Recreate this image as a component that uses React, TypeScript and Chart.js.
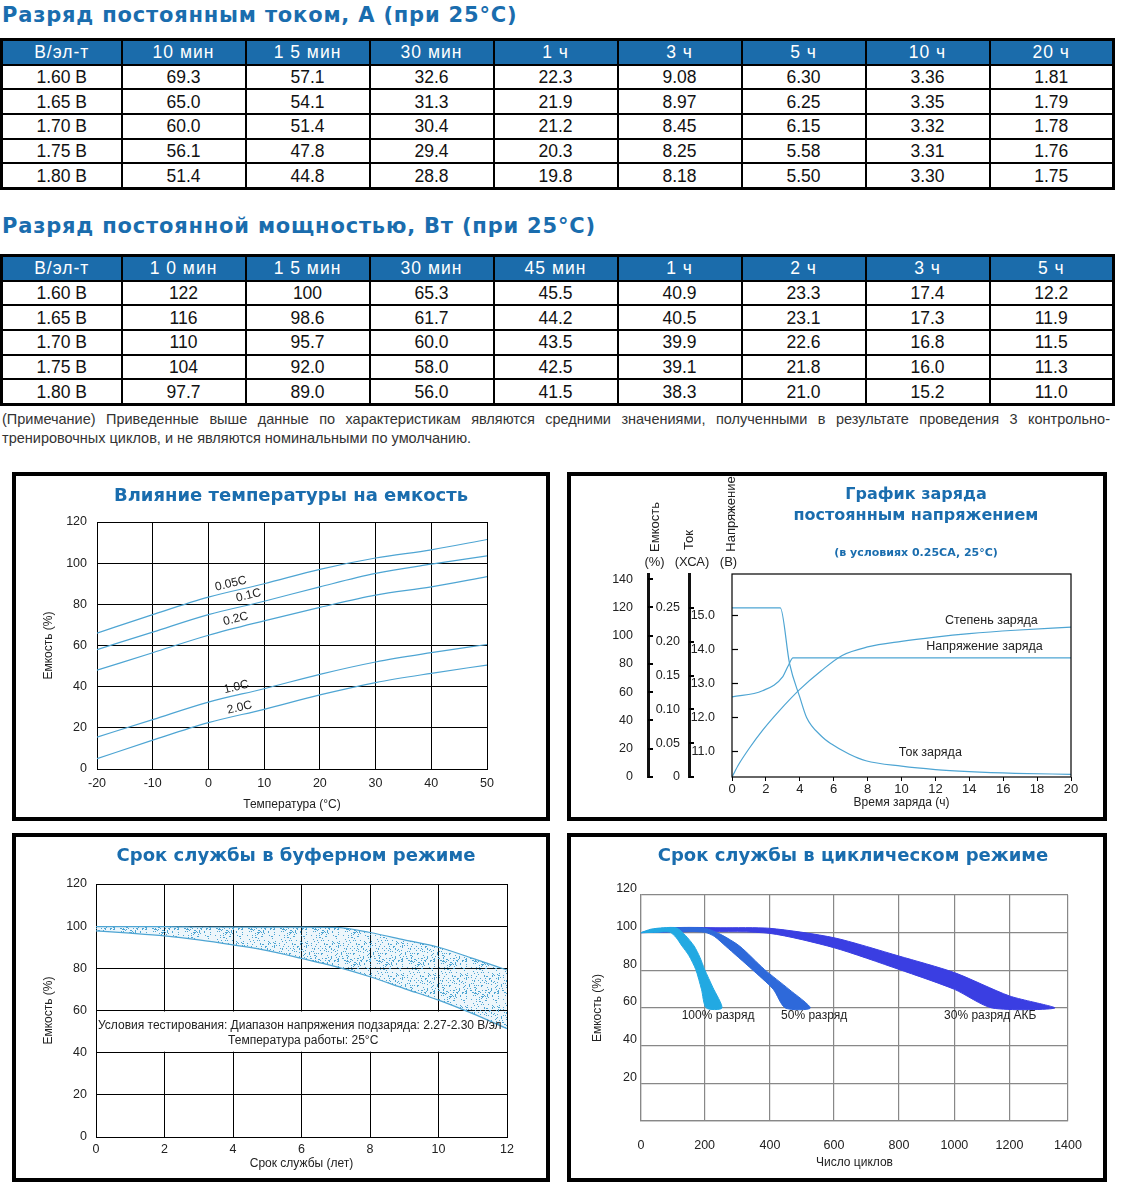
import React, { useEffect, useLayoutEffect, useRef } from 'react';
import { Chart, registerables, LinearScale } from 'chart.js';

Chart.register(...registerables);

// ---------- piecewise axis used by the cycle-life chart (its grid is not evenly spaced) ----------
const cycleStops = [0, 200, 400, 600, 800, 1000, 1200, 1400];
const cycleStopFractions = [0, 0.149, 0.302, 0.452, 0.604, 0.734, 0.863, 1];

class PiecewiseScale extends LinearScale {
  static id = 'piecewise';
  static defaults = LinearScale.defaults;
  getPixelForValue(value: any) {
    if (value === null || value === undefined || isNaN(value)) return NaN;
    const v = Number(value);
    let i = 0;
    while (i < cycleStops.length - 2 && v > cycleStops[i + 1]) i++;
    const f0 = cycleStopFractions[i], f1 = cycleStopFractions[i + 1];
    const s0 = cycleStops[i], s1 = cycleStops[i + 1];
    const frac = f0 + ((v - s0) / (s1 - s0)) * (f1 - f0);
    return (this as any).getPixelForDecimal(frac);
  }
  getValueForPixel(pixel: number) {
    const d = (this as any).getDecimalForPixel(pixel);
    let i = 0;
    while (i < cycleStopFractions.length - 2 && d > cycleStopFractions[i + 1]) i++;
    const f0 = cycleStopFractions[i], f1 = cycleStopFractions[i + 1];
    return cycleStops[i] + ((d - f0) / (f1 - f0)) * (cycleStops[i + 1] - cycleStops[i]);
  }
}
Chart.register(PiecewiseScale as any);

// ---------- colours / fonts ----------
const HEADER_BLUE = '#1b6cab';
const TITLE_BLUE = '#1a6dae';
const LINE_BLUE = '#4ea5d3';
const FONT = '"Liberation Sans", Arial, Helvetica, sans-serif';
const HEAVY = '"DejaVu Sans", Verdana, sans-serif';

// ---------- table 1: constant current discharge, A ----------
const currentHeaders = ['В/эл-т', '10 мин', '1 5 мин', '30 мин', '1 ч', '3 ч', '5 ч', '10 ч', '20 ч'];
const cellVoltages = ['1.60 В', '1.65 В', '1.70 В', '1.75 В', '1.80 В'];
const currentRow160 = ['69.3', '57.1', '32.6', '22.3', '9.08', '6.30', '3.36', '1.81'];
const currentRow165 = ['65.0', '54.1', '31.3', '21.9', '8.97', '6.25', '3.35', '1.79'];
const currentRow170 = ['60.0', '51.4', '30.4', '21.2', '8.45', '6.15', '3.32', '1.78'];
const currentRow175 = ['56.1', '47.8', '29.4', '20.3', '8.25', '5.58', '3.31', '1.76'];
const currentRow180 = ['51.4', '44.8', '28.8', '19.8', '8.18', '5.50', '3.30', '1.75'];

// ---------- table 2: constant power discharge, W ----------
const powerHeaders = ['В/эл-т', '1 0 мин', '1 5 мин', '30 мин', '45 мин', '1 ч', '2 ч', '3 ч', '5 ч'];
const powerRow160 = ['122', '100', '65.3', '45.5', '40.9', '23.3', '17.4', '12.2'];
const powerRow165 = ['116', '98.6', '61.7', '44.2', '40.5', '23.1', '17.3', '11.9'];
const powerRow170 = ['110', '95.7', '60.0', '43.5', '39.9', '22.6', '16.8', '11.5'];
const powerRow175 = ['104', '92.0', '58.0', '42.5', '39.1', '21.8', '16.0', '11.3'];
const powerRow180 = ['97.7', '89.0', '56.0', '41.5', '38.3', '21.0', '15.2', '11.0'];

const noteLine1 =
  '(Примечание) Приведенные выше данные по характеристикам являются средними значениями, полученными в результате проведения 3 контрольно-';
const noteLine2 = 'тренировочных циклов, и не являются номинальными по умолчанию.';

// ---------- chart 1: temperature vs capacity ----------
const temperatures = [-20, -10, 0, 10, 20, 30, 40, 50];
const cap005C = [66, 75, 83.5, 90, 97, 102.5, 106.5, 111.5];
const cap01C = [58, 66.5, 75, 81.5, 88.5, 95, 99.5, 103.5];
const cap02C = [48, 56.5, 65, 72, 78.5, 84.5, 88.5, 93.5];
const cap10C = [15.5, 24, 32.5, 39, 46, 52, 56.5, 60.5];
const cap20C = [5, 14, 22.5, 29, 36, 42, 46.5, 50.5];
const rateLabels = ['0.05C', '0.1C', '0.2C', '1.0C', '2.0C'];

// ---------- chart 2: constant-voltage charge ----------
const voltageTimes = [0, 1.8, 3.0, 3.3, 3.6, 20];
const chargeVoltage = [12.6, 12.78, 13.2, 13.5, 13.75, 13.75];
const currentTimes = [0, 2.85, 3.4, 4.0, 4.4, 5.25, 5.85, 6.9, 7.9, 10, 12, 14, 16.7, 20];
const chargeCurrent = [0.25, 0.25, 0.167, 0.118, 0.088, 0.061, 0.049, 0.034, 0.024, 0.016, 0.011, 0.008, 0.0055, 0.004];
const socTimes = [0, 0.4, 1, 1.8, 2.8, 4, 5.25, 6.5, 8, 10, 12, 14, 16.7, 20];
const stateOfCharge = [0, 9, 20, 33, 47, 62, 75, 86, 92, 96, 99, 101.4, 103.8, 106];

// ---------- chart 3: float service life ----------
const serviceYears = [0, 1, 2, 3, 4, 5, 6, 7, 8, 9, 10, 11, 12];
const floatUpper = [99.8, 99.8, 99.8, 99.6, 99.5, 99.5, 99.5, 99.4, 97, 93.5, 90, 84.7, 79.2];
const floatLower = [97.8, 96.7, 95.4, 93.5, 91.1, 88.4, 84.7, 80.8, 76, 70.4, 64.9, 58.5, 51.4];

// ---------- chart 4: cycle service life (band outlines) ----------
const band100Cycles = [0, 30, 70, 112, 140, 167, 185, 200, 225, 253, 205, 190, 172, 150, 129, 110, 90, 50, 0];
const band100Capacity = [100, 101.8, 102.6, 102.5, 98.5, 92.9, 87, 80.5, 71, 60, 60, 70, 80.5, 88, 92.9, 97.5, 100.3, 100.2, 100];
const band50Cycles = [0, 40, 100, 200, 250, 307, 383, 459, 526, 448, 410, 345, 264, 230, 200, 100, 0];
const band50Capacity = [100, 101.8, 102.6, 102.4, 99, 92.9, 80.5, 70, 60, 60, 70, 80.5, 92.9, 98, 100.2, 100.8, 100];
const band30Cycles = [0, 100, 250, 400, 600, 800, 1000, 1200, 1355, 1137, 1000, 800, 600, 400, 200, 0];
const band30Capacity = [100, 102.6, 102.6, 102.3, 97.3, 87.6, 78.8, 66.4, 60, 60, 69.9, 80.5, 92, 99.6, 100.6, 100];
const bandLabels = ['100% разряд', '50% разряд', '30% разряд АКБ'];

// ---------- helpers ----------
const pts = (xs: number[], ys: number[]) => xs.map((x, i) => ({ x, y: ys[i] }));

type Note = {
  text: string;
  x: number;
  y: number;
  xAxis?: string;
  yAxis?: string;
  size?: number;
  color?: string;
  align?: CanvasTextAlign;
  slope?: number[];
};

function notesPlugin(id: string, notes: Note[]) {
  return {
    id,
    afterDatasetsDraw(chart: any) {
      const ctx = chart.ctx;
      for (const n of notes) {
        const xs = chart.scales[n.xAxis || 'x'];
        const ys = chart.scales[n.yAxis || 'y'];
        ctx.save();
        ctx.translate(xs.getPixelForValue(n.x), ys.getPixelForValue(n.y));
        if (n.slope) {
          const [x1, y1, x2, y2] = n.slope;
          const a = Math.atan2(
            ys.getPixelForValue(y2) - ys.getPixelForValue(y1),
            xs.getPixelForValue(x2) - xs.getPixelForValue(x1)
          );
          ctx.rotate(a);
        }
        ctx.font = `${n.size || 12}px ${FONT}`;
        ctx.fillStyle = n.color || '#222';
        ctx.textAlign = n.align || 'center';
        ctx.textBaseline = 'middle';
        ctx.fillText(n.text, 0, 0);
        ctx.restore();
      }
    },
  };
}

function makeStipple(): any {
  const c = document.createElement('canvas');
  c.width = 32;
  c.height = 32;
  const g = c.getContext('2d');
  if (!g) return 'rgba(78,165,211,0.3)';
  g.fillStyle = 'rgba(78,165,211,0.10)';
  g.fillRect(0, 0, 32, 32);
  g.fillStyle = '#4ea5d3';
  let s = 12345;
  for (let i = 0; i < 150; i++) {
    s = (s * 16807) % 2147483647;
    const x = s % 32;
    s = (s * 16807) % 2147483647;
    const y = s % 32;
    g.fillRect(x, y, 1, 1);
  }
  return g.createPattern(c, 'repeat') || 'rgba(78,165,211,0.3)';
}

const tickFont = { family: FONT, size: 12.5 };
const axisTitleFont = { family: FONT, size: 12 };

function useChart(ref: React.RefObject<HTMLCanvasElement | null>, build: () => any) {
  useEffect(() => {
    if (!ref.current) return;
    const chart = new Chart(ref.current, build());
    return () => chart.destroy();
  }, []);
}

// ---------- chart configs ----------
function tempConfig() {
  const series = [cap005C, cap01C, cap02C, cap10C, cap20C];
  const notes: Note[] = [
    { text: rateLabels[0], x: 4, y: 90, slope: [temperatures[2], cap005C[2], temperatures[3], cap005C[3]] },
    { text: rateLabels[1], x: 7.2, y: 84.3, slope: [temperatures[2], cap01C[2], temperatures[3], cap01C[3]] },
    { text: rateLabels[2], x: 4.9, y: 72.9, slope: [temperatures[2], cap02C[2], temperatures[3], cap02C[3]] },
    { text: rateLabels[3], x: 5, y: 39.8, slope: [temperatures[2], cap10C[2], temperatures[3], cap10C[3]] },
    { text: rateLabels[4], x: 5.6, y: 29.8, slope: [temperatures[2], cap20C[2], temperatures[3], cap20C[3]] },
  ];
  return {
    type: 'line',
    data: {
      datasets: series.map((s, i) => ({
        label: rateLabels[i],
        data: pts(temperatures, s),
        borderColor: LINE_BLUE,
        borderWidth: 1.2,
        pointRadius: 0,
        cubicInterpolationMode: 'monotone',
        fill: false,
      })),
    },
    options: {
      animation: false,
      responsive: false,
      layout: { padding: { left: 21, right: 59, top: 46, bottom: 1 } },
      plugins: { legend: { display: false }, tooltip: { enabled: false } },
      scales: {
        x: {
          type: 'linear',
          min: -20,
          max: 50,
          ticks: { stepSize: 10, padding: 7, font: tickFont, color: '#222' },
          grid: { color: '#000', lineWidth: 1, drawTicks: false },
          border: { color: '#000' },
          title: { display: true, text: 'Температура (°C)', font: axisTitleFont, color: '#222' },
          afterFit: (s: any) => { s.height = 47; },
        },
        y: {
          type: 'linear',
          min: 0,
          max: 120,
          ticks: { stepSize: 20, padding: 10, font: tickFont, color: '#222' },
          grid: { color: '#000', lineWidth: 1, drawTicks: false },
          border: { color: '#000' },
          title: { display: true, text: 'Емкость (%)', font: axisTitleFont, color: '#222' },
          afterFit: (s: any) => { s.width = 60; },
        },
      },
    },
    plugins: [notesPlugin('tempNotes', notes)],
  };
}

const chargeAxesPlugin = {
  id: 'chargeAxes',
  afterDraw(chart: any) {
    const ctx = chart.ctx;
    const a = chart.chartArea;
    ctx.save();
    ctx.strokeStyle = '#000';
    ctx.lineWidth = 1.2;
    ctx.strokeRect(a.left, a.top, a.right - a.left, a.bottom - a.top);
    for (const id of ['yPct', 'yCur']) {
      const s = chart.scales[id];
      ctx.lineWidth = 2;
      for (const t of s.ticks) {
        const y = Math.round(s.getPixelForValue(t.value));
        ctx.beginPath();
        ctx.moveTo(s.right, y);
        ctx.lineTo(s.right + 5, y);
        ctx.stroke();
      }
    }
    const v = chart.scales.yV;
    ctx.lineWidth = 1.2;
    for (const t of v.ticks) {
      const y = Math.round(v.getPixelForValue(t.value)) + 0.5;
      ctx.beginPath();
      ctx.moveTo(a.left, y);
      ctx.lineTo(a.left + 6, y);
      ctx.stroke();
    }
    ctx.restore();
  },
};

function chargeConfig() {
  const notes: Note[] = [
    { text: 'Степень заряда', x: 15.3, y: 110.6, yAxis: 'yPct', size: 12.5 },
    { text: 'Напряжение заряда', x: 14.9, y: 92.2, yAxis: 'yPct', size: 12.5 },
    { text: 'Ток заряда', x: 11.7, y: 17.5, yAxis: 'yPct', size: 12.5 },
  ];
  const common = { borderColor: LINE_BLUE, borderWidth: 1.2, pointRadius: 0, cubicInterpolationMode: 'monotone', fill: false };
  return {
    type: 'line',
    data: {
      datasets: [
        { label: 'Степень заряда', data: pts(socTimes, stateOfCharge), yAxisID: 'yPct', ...common },
        { label: 'Ток заряда', data: pts(currentTimes, chargeCurrent), yAxisID: 'yCur', ...common },
        { label: 'Напряжение заряда', data: pts(voltageTimes, chargeVoltage), yAxisID: 'yV', ...common },
      ],
    },
    options: {
      animation: false,
      responsive: false,
      layout: { padding: { left: 30, right: 32, top: 98, bottom: 3 } },
      plugins: { legend: { display: false }, tooltip: { enabled: false } },
      scales: {
        x: {
          type: 'linear',
          min: 0,
          max: 20,
          ticks: { stepSize: 2, padding: 1, font: { family: FONT, size: 13 }, color: '#222' },
          grid: { drawOnChartArea: false, drawTicks: true, tickLength: 4, color: '#000' },
          border: { display: false },
          title: { display: true, text: 'Время заряда (ч)', font: axisTitleFont, color: '#222', padding: { top: 2, bottom: 4 } },
          afterFit: (s: any) => { s.height = 37; },
        },
        yPct: {
          type: 'linear',
          position: 'left',
          weight: 3,
          min: 0,
          max: 143.6,
          ticks: { stepSize: 20, padding: 15, includeBounds: false, font: tickFont, color: '#222' },
          grid: { drawOnChartArea: false, drawTicks: false },
          border: { display: true, color: '#111', width: 3 },
          afterFit: (s: any) => { s.width = 47; },
        },
        yCur: {
          type: 'linear',
          position: 'left',
          weight: 2,
          min: 0,
          max: 0.3,
          ticks: {
            stepSize: 0.05,
            padding: 9,
            includeBounds: false,
            font: tickFont,
            color: '#222',
            callback: (v: any) => (Number(v) === 0 ? '0' : Number(v).toFixed(2)),
          },
          afterBuildTicks: (s: any) => { s.ticks = s.ticks.filter((t: any) => t.value <= 0.2501); },
          grid: { drawOnChartArea: false, drawTicks: false },
          border: { display: true, color: '#111', width: 3 },
          afterFit: (s: any) => { s.width = 41; },
        },
        yV: {
          type: 'linear',
          position: 'left',
          weight: 1,
          min: 10.24,
          max: 16.22,
          ticks: {
            stepSize: 1,
            padding: 9,
            includeBounds: false,
            font: tickFont,
            color: '#222',
            callback: (v: any) => Number(v).toFixed(1),
          },
          afterBuildTicks: (s: any) => { s.ticks = s.ticks.filter((t: any) => t.value >= 10.99 && t.value <= 15.01); },
          grid: { display: false },
          border: { display: false },
          afterFit: (s: any) => { s.width = 43; },
        },
      },
    },
    plugins: [chargeAxesPlugin, notesPlugin('chargeNotes', notes)],
  };
}

const floatBandPlugin = {
  id: 'floatBand',
  beforeDatasetsDraw(chart: any) {
    const ctx = chart.ctx;
    const a = chart.chartArea;
    const y = chart.scales.y;
    const top = y.getPixelForValue(60) + 1;
    const bottom = y.getPixelForValue(40) - 1;
    ctx.save();
    ctx.fillStyle = '#fff';
    ctx.fillRect(a.left + 1, top, a.right - a.left - 2, bottom - top);
    ctx.restore();
  },
};

function floatConfig() {
  const notes: Note[] = [
    { text: 'Условия тестирования: Диапазон напряжения подзаряда: 2.27-2.30 В/эл', x: 5.95, y: 52.8, size: 12 },
    { text: 'Температура работы: 25°C', x: 6.05, y: 45.8, size: 12 },
  ];
  return {
    type: 'line',
    data: {
      datasets: [
        {
          label: 'upper',
          data: pts(serviceYears, floatUpper),
          borderColor: LINE_BLUE,
          borderWidth: 1.2,
          pointRadius: 0,
          cubicInterpolationMode: 'monotone',
          fill: false,
        },
        {
          label: 'lower',
          data: pts(serviceYears, floatLower),
          borderColor: LINE_BLUE,
          borderWidth: 1.2,
          pointRadius: 0,
          cubicInterpolationMode: 'monotone',
          fill: '-1',
          backgroundColor: makeStipple(),
        },
      ],
    },
    options: {
      animation: false,
      responsive: false,
      layout: { padding: { left: 21, right: 39, top: 47, bottom: 3 } },
      plugins: { legend: { display: false }, tooltip: { enabled: false }, filler: { propagate: false } },
      scales: {
        x: {
          type: 'linear',
          min: 0,
          max: 12,
          ticks: { stepSize: 2, padding: 5, font: tickFont, color: '#222' },
          grid: { color: '#000', lineWidth: 1, drawTicks: false },
          border: { color: '#000' },
          title: { display: true, text: 'Срок службы (лет)', font: axisTitleFont, color: '#222' },
          afterFit: (s: any) => { s.height = 38; },
        },
        y: {
          type: 'linear',
          min: 0,
          max: 120,
          ticks: { stepSize: 20, padding: 9, font: tickFont, color: '#222' },
          grid: { color: '#000', lineWidth: 1, drawTicks: false },
          border: { color: '#000' },
          title: { display: true, text: 'Емкость (%)', font: axisTitleFont, color: '#222' },
          afterFit: (s: any) => { s.width = 59; },
        },
      },
    },
    plugins: [floatBandPlugin, notesPlugin('floatNotes', notes)],
  };
}

function cycleConfig() {
  const notes: Note[] = [
    { text: bandLabels[0], x: 241, y: 55.8, size: 12 },
    { text: bandLabels[1], x: 538, y: 55.8, size: 12 },
    { text: bandLabels[2], x: 1130, y: 55.8, size: 12 },
  ];
  const band = (label: string, xs: number[], ys: number[], color: string) => ({
    label,
    data: pts(xs, ys),
    borderColor: color,
    backgroundColor: color,
    borderWidth: 1,
    pointRadius: 0,
    tension: 0.25,
    fill: 'shape',
  });
  return {
    type: 'line',
    data: {
      datasets: [
        band(bandLabels[0], band100Cycles, band100Capacity, '#22a9e2'),
        band(bandLabels[1], band50Cycles, band50Capacity, '#2e69da'),
        band(bandLabels[2], band30Cycles, band30Capacity, '#3a3ee2'),
      ],
    },
    options: {
      animation: false,
      responsive: false,
      layout: { padding: { left: 15, right: 35, top: 58, bottom: 4 } },
      plugins: { legend: { display: false }, tooltip: { enabled: false } },
      scales: {
        x: {
          type: 'piecewise',
          min: 0,
          max: 1400,
          ticks: { stepSize: 200, padding: 17, font: tickFont, color: '#222', callback: (v: any) => String(v) },
          grid: { color: '#888', lineWidth: 1.2, drawTicks: false },
          border: { color: '#888', width: 1.2 },
          title: { display: true, text: 'Число циклов', font: axisTitleFont, color: '#222' },
          afterFit: (s: any) => { s.height = 53; },
        },
        y: {
          type: 'linear',
          min: 0,
          max: 120,
          ticks: {
            stepSize: 20,
            padding: 4,
            labelOffset: -6,
            font: tickFont,
            color: '#222',
            callback: (v: any) => (Number(v) === 0 ? '' : String(v)),
          },
          grid: { color: '#888', lineWidth: 1.2, drawTicks: false },
          border: { color: '#888', width: 1.2 },
          title: { display: true, text: 'Емкость (%)', font: axisTitleFont, color: '#222' },
          afterFit: (s: any) => { s.width = 55; },
        },
      },
    },
    plugins: [notesPlugin('cycleNotes', notes)],
  };
}

// ---------- components ----------
function DataTable({ top, headers, rows }: { top: number; headers: string[]; rows: string[][] }) {
  const cell: React.CSSProperties = {
    border: '2px solid #000',
    padding: 0,
    textAlign: 'center',
    height: 22.7,
    lineHeight: '22px',
  };
  return (
    <table
      style={{
        position: 'absolute',
        left: 0,
        top,
        width: 1112,
        borderCollapse: 'collapse',
        tableLayout: 'fixed',
        border: '3px solid #000',
        fontFamily: FONT,
        fontSize: 17.5,
        color: '#111',
      }}
    >
      <colgroup>
        <col style={{ width: 120 }} />
        {headers.slice(1).map((h) => (
          <col key={h} style={{ width: 124 }} />
        ))}
      </colgroup>
      <thead>
        <tr>
          {headers.map((h) => (
            <th key={h} style={{ ...cell, background: HEADER_BLUE, color: '#fff', fontWeight: 'normal', letterSpacing: 1 }}>
              {h}
            </th>
          ))}
        </tr>
      </thead>
      <tbody>
        {rows.map((r, i) => (
          <tr key={i}>
            <td style={cell}>{cellVoltages[i]}</td>
            {r.map((v, j) => (
              <td key={j} style={cell}>
                {v}
              </td>
            ))}
          </tr>
        ))}
      </tbody>
    </table>
  );
}

function Box({ left, top, width, height, children }: any) {
  return (
    <div
      style={{
        position: 'absolute',
        left,
        top,
        width,
        height,
        border: '4px solid #000',
        boxSizing: 'border-box',
        background: '#fff',
      }}
    >
      {children}
    </div>
  );
}

function ChartTitle({ x, y, text, size = 18 }: { x: number; y: number; text: string; size?: number }) {
  return (
    <div
      style={{
        position: 'absolute',
        left: x,
        top: y,
        transform: 'translate(-50%, -50%)',
        whiteSpace: 'nowrap',
        fontFamily: HEAVY,
        fontWeight: 'bold',
        fontSize: size,
        color: TITLE_BLUE,
        lineHeight: 1,
      }}
    >
      {text}
    </div>
  );
}

function SideLabel({ x, y, text, rotate }: { x: number; y: number; text: string; rotate?: boolean }) {
  return (
    <div
      style={{
        position: 'absolute',
        left: x,
        top: y,
        transform: `translate(-50%, -50%)${rotate ? ' rotate(-90deg)' : ''}`,
        whiteSpace: 'nowrap',
        fontFamily: FONT,
        fontSize: 13,
        color: '#222',
        lineHeight: 1,
      }}
    >
      {text}
    </div>
  );
}

function ChartCanvas({ build, width, height }: { build: () => any; width: number; height: number }) {
  const ref = useRef<HTMLCanvasElement>(null);
  useChart(ref, build);
  return <canvas ref={ref} width={width} height={height} style={{ position: 'absolute', left: 0, top: 0, display: 'block' }} />;
}

export default function App() {
  useLayoutEffect(() => {
    document.body.style.margin = '0';
    document.body.style.background = '#fff';
  }, []);

  const pageTitle: React.CSSProperties = {
    position: 'absolute',
    left: 2,
    fontFamily: HEAVY,
    fontWeight: 'bold',
    fontSize: 21,
    letterSpacing: 0.8,
    color: TITLE_BLUE,
    whiteSpace: 'nowrap',
    lineHeight: '26px',
  };
  const noteStyle: React.CSSProperties = {
    position: 'absolute',
    left: 2,
    width: 1108,
    fontFamily: FONT,
    fontSize: 14.5,
    color: '#333',
    lineHeight: '19px',
    whiteSpace: 'normal',
  };

  return (
    <div style={{ position: 'relative', width: 1128, height: 1195, background: '#fff', overflow: 'hidden' }}>
      <div style={{ ...pageTitle, top: 2 }}>Разряд постоянным током, А (при 25°C)</div>
      <DataTable
        top={38}
        headers={currentHeaders}
        rows={[currentRow160, currentRow165, currentRow170, currentRow175, currentRow180]}
      />
      <div style={{ ...pageTitle, top: 213 }}>Разряд постоянной мощностью, Вт (при 25°C)</div>
      <DataTable
        top={254}
        headers={powerHeaders}
        rows={[powerRow160, powerRow165, powerRow170, powerRow175, powerRow180]}
      />
      <div style={{ ...noteStyle, top: 410, textAlign: 'justify', textAlignLast: 'justify' }}>{noteLine1}</div>
      <div style={{ ...noteStyle, top: 429 }}>{noteLine2}</div>

      <Box left={12} top={472} width={538} height={349}>
        <ChartCanvas build={tempConfig} width={530} height={341} />
        <ChartTitle x={275} y={19} text="Влияние температуры на емкость" />
      </Box>

      <Box left={567} top={472} width={540} height={349}>
        <ChartCanvas build={chargeConfig} width={532} height={341} />
        <ChartTitle x={345} y={18} text="График заряда" size={16} />
        <ChartTitle x={345} y={39} text="постоянным напряжением" size={16} />
        <ChartTitle x={345} y={76} text="(в условиях 0.25CA, 25°C)" size={11} />
        <SideLabel x={82.5} y={50.5} text="Емкость" rotate />
        <SideLabel x={83.5} y={84.5} text="(%)" />
        <SideLabel x={117} y={64} text="Ток" rotate />
        <SideLabel x={121} y={84.5} text="(ХСА)" />
        <SideLabel x={158.5} y={38} text="Напряжение" rotate />
        <SideLabel x={157.5} y={84.5} text="(В)" />
      </Box>

      <Box left={12} top={833} width={538} height={349}>
        <ChartCanvas build={floatConfig} width={530} height={341} />
        <ChartTitle x={280} y={18} text="Срок службы в буферном режиме" />
      </Box>

      <Box left={567} top={833} width={540} height={349}>
        <ChartCanvas build={cycleConfig} width={532} height={341} />
        <ChartTitle x={282} y={18} text="Срок службы в циклическом режиме" />
      </Box>
    </div>
  );
}
